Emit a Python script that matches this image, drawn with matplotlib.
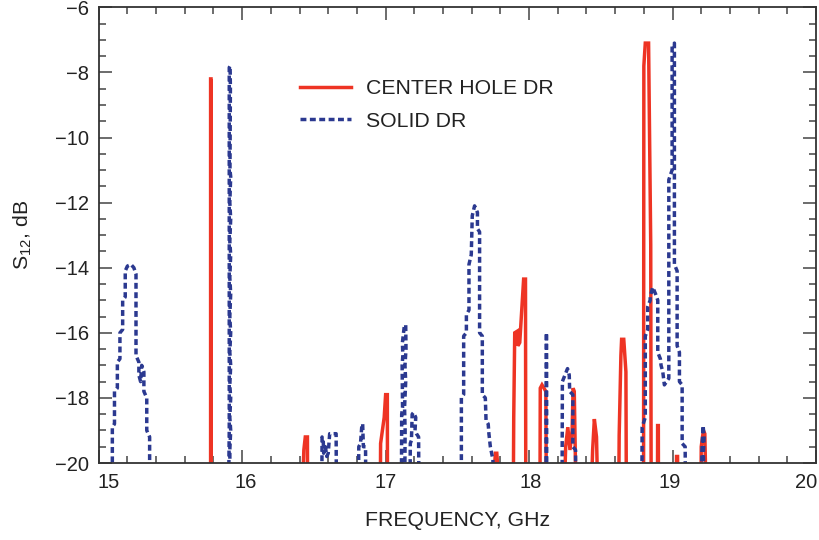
import matplotlib
matplotlib.use("Agg")
import matplotlib.pyplot as plt
from matplotlib.ticker import MultipleLocator
from matplotlib.transforms import ScaledTranslation

plt.rcParams['font.family'] = ['Liberation Sans', 'DejaVu Sans']
plt.rcParams['mathtext.fontset'] = 'custom'
plt.rcParams['mathtext.rm'] = 'Liberation Sans'

# ---- data (values below -20 dB are drawn at -21, i.e. off the chart floor) ----
freq_center_hole = [
    15.000,
    15.780, 15.780, 15.783, 15.783,
    16.420, 16.430, 16.440, 16.455, 16.456,
    16.963, 16.965, 16.990, 17.000, 17.012, 17.013,
    17.748, 17.765, 17.775, 17.795,
    17.890, 17.893, 17.900, 17.918, 17.922, 17.935, 17.962, 17.975, 17.977,
    18.076, 18.078, 18.090, 18.117, 18.120,
    18.245, 18.255, 18.270, 18.285, 18.300, 18.307, 18.315, 18.327,
    18.433, 18.443, 18.455, 18.470, 18.479,
    18.625, 18.628, 18.640, 18.645, 18.660, 18.675, 18.678,
    18.798, 18.800, 18.810, 18.833, 18.848, 18.851,
    18.895, 18.896, 18.901, 18.902,
    19.025, 19.028, 19.035, 19.037,
    19.198, 19.200, 19.215, 19.225, 19.234,
    20.000,
]
s12_center_hole = [
    -21,
    -21, -8.2, -8.2, -21,
    -21, -19.6, -19.2, -19.2, -21,
    -21, -19.4, -18.6, -17.9, -17.9, -21,
    -21, -19.7, -19.7, -21,
    -21, -18.6, -16.0, -15.95, -16.4, -16.3, -14.35, -14.35, -21,
    -21, -17.7, -17.6, -17.8, -21,
    -21, -19.5, -18.9, -19.6, -19.0, -17.7, -17.8, -21,
    -21, -19.6, -18.65, -19.2, -21,
    -21, -19.15, -16.7, -16.2, -16.2, -17.2, -21,
    -21, -7.8, -7.1, -7.1, -13.3, -21,
    -21, -18.85, -18.85, -21,
    -21, -19.8, -19.8, -21,
    -21, -19.5, -19.0, -19.1, -21,
    -21,
]

freq_solid = [
    15.000,
    15.095, 15.095, 15.110, 15.110, 15.130, 15.130, 15.148, 15.148, 15.167, 15.167,
    15.185, 15.185, 15.200, 15.225, 15.245, 15.260, 15.260, 15.280, 15.280, 15.292,
    15.300, 15.315, 15.315, 15.335, 15.335, 15.355, 15.355,
    15.905, 15.908, 15.910, 15.910, 15.916, 15.918, 15.915, 15.920, 15.914, 15.920,
    15.914, 15.920, 15.914, 15.920, 15.914, 15.920, 15.914, 15.920, 15.914, 15.920,
    15.914, 15.920, 15.914, 15.916,
    16.555, 16.557, 16.565, 16.568, 16.580, 16.590, 16.600, 16.610, 16.655, 16.657,
    16.810, 16.813, 16.825, 16.835, 16.840, 16.845, 16.860, 16.862,
    17.110, 17.112, 17.118, 17.115, 17.120, 17.117, 17.130, 17.140, 17.142, 17.135,
    17.140, 17.132, 17.136, 17.133,
    17.170, 17.172, 17.180, 17.185, 17.195, 17.210, 17.205, 17.215, 17.230, 17.232,
    17.528, 17.528, 17.544, 17.544, 17.563, 17.563, 17.581, 17.581, 17.597, 17.604,
    17.620, 17.640, 17.640, 17.655, 17.655, 17.674, 17.674, 17.695, 17.700, 17.715,
    17.720, 17.730, 17.748, 17.750,
    18.118, 18.120, 18.122, 18.123,
    18.230, 18.232, 18.250, 18.268, 18.280, 18.283, 18.305, 18.305, 18.324, 18.325,
    18.786, 18.788, 18.810, 18.810, 18.827, 18.827, 18.844, 18.844, 18.862, 18.881,
    18.897, 18.897, 18.915, 18.920, 18.932, 18.943, 18.974, 18.974, 18.997, 18.997,
    19.013, 19.013, 19.032, 19.032, 19.048, 19.048, 19.067, 19.067, 19.088, 19.090,
    19.200, 19.205, 19.213, 19.220, 19.215, 19.222,
    20.000,
]
s12_solid = [
    -21,
    -21, -18.9, -18.8, -17.8, -17.7, -16.9, -16.8, -16.0, -15.9, -15.0,
    -14.9, -14.1, -13.95, -13.9, -14.0, -14.2, -16.7, -16.9, -17.3, -17.5,
    -17.0, -17.2, -17.8, -18.0, -19.0, -19.2, -21,
    -21, -19.9, -19.0, -7.85, -7.8, -8.5, -11.0, -11.2, -12.0, -12.5,
    -13.2, -13.6, -14.3, -14.8, -15.5, -16.0, -16.6, -17.0, -17.6, -18.0,
    -18.6, -19.0, -19.6, -21,
    -21, -19.2, -19.3, -19.7, -19.5, -19.8, -19.7, -19.1, -19.1, -21,
    -21, -19.5, -19.4, -18.8, -18.8, -19.5, -19.5, -21,
    -21, -18.5, -18.3, -17.0, -16.7, -16.3, -15.8, -15.75, -16.5, -17.0,
    -17.5, -18.3, -19.0, -21,
    -21, -19.4, -19.3, -18.5, -18.45, -18.6, -19.0, -19.1, -19.2, -21,
    -21, -18.0, -17.9, -16.1, -16.0, -15.45, -15.3, -13.9, -13.6, -12.4,
    -12.1, -12.3, -12.8, -12.9, -16.0, -16.1, -17.9, -18.0, -18.7, -18.8,
    -19.1, -19.5, -19.9, -21,
    -21, -16.0, -16.0, -21,
    -21, -17.5, -17.3, -17.1, -17.3, -17.8, -17.9, -19.5, -19.6, -21,
    -21, -18.9, -18.6, -16.1, -15.9, -15.2, -15.0, -14.9, -14.6, -14.8,
    -15.0, -16.6, -16.8, -17.0, -17.2, -17.6, -17.4, -11.3, -11.0, -7.2,
    -7.1, -13.9, -14.1, -16.4, -16.6, -17.5, -17.6, -19.4, -19.5, -21,
    -21, -19.6, -18.85, -19.2, -19.7, -21,
    -21,
]

series_labels = ["CENTER HOLE DR", "SOLID DR"]
x_ticks = [15, 16, 17, 18, 19, 20]
y_ticks = [-20, -18, -16, -14, -12, -10, -8, -6]

RED = '#EE3424'
BLUE = '#2B3990'
TXT = '#222222'

fig = plt.figure(figsize=(8.2, 5.4), dpi=100)
ax = fig.add_axes([98.7 / 820, 77 / 540, (816 - 98.7) / 820, (463 - 7.3) / 540])

ax.plot(freq_center_hole, s12_center_hole, color=RED, lw=2.5,
        solid_joinstyle='miter', label=series_labels[0])
ax.plot(freq_solid, s12_solid, color=BLUE, lw=2.5, linestyle=(0, (1.7, 1.0)),
        dash_capstyle='butt', label=series_labels[1])

ax.set_xlim(15, 20)
ax.set_ylim(-20, -6)
ax.set_xticks(x_ticks)
ax.set_yticks(y_ticks)
ax.xaxis.set_minor_locator(MultipleLocator(0.2))
ax.yaxis.set_minor_locator(MultipleLocator(0.5))

for s in ax.spines.values():
    s.set_linewidth(1.3)
    s.set_color('#333333')

ax.tick_params(which='both', direction='in', top=True, right=True,
               color='#444444', width=1.1, labelsize=14.5, labelcolor=TXT)
ax.tick_params(which='major', length=9.4, pad=7)
ax.tick_params(which='minor', length=5)

# the original's x tick labels sit slightly inward from the end ticks
label_shift_px = [10, 4, 0, 2, -3, -10]
fig.canvas.draw()
for lbl, dx in zip(ax.get_xticklabels(), label_shift_px):
    lbl.set_transform(lbl.get_transform() + ScaledTranslation(dx / 100, 0, fig.dpi_scale_trans))

ax.set_xlabel("FREQUENCY, GHz", fontsize=15.3, color=TXT, labelpad=14)
ax.set_ylabel(r"S$_{\mathregular{12}}$, dB", fontsize=15.3, color=TXT, labelpad=15)

leg = ax.legend(loc='upper left', bbox_to_anchor=(300 / 820, 1 - 79 / 540),
                bbox_transform=fig.transFigure, frameon=False, fontsize=15.3,
                handlelength=2.4, handletextpad=0.7, labelspacing=0.65,
                borderpad=0, borderaxespad=0)
for t in leg.get_texts():
    t.set_color(TXT)

fig.savefig("out.png", dpi=100)
